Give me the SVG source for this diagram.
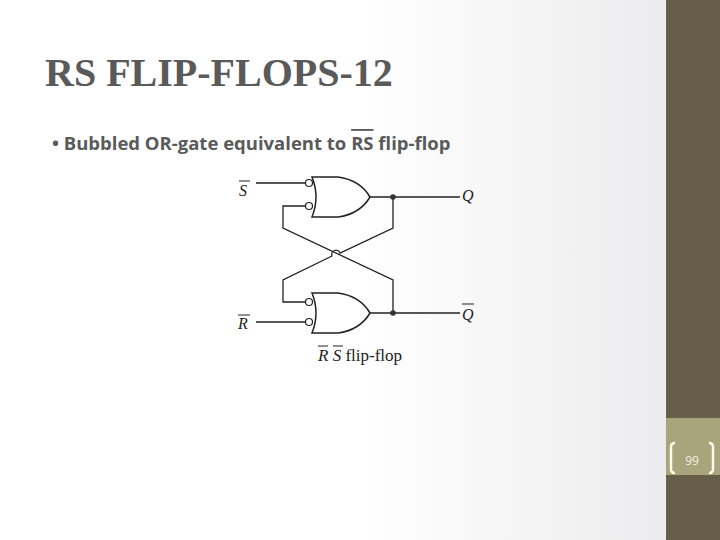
<svg xmlns="http://www.w3.org/2000/svg" width="720" height="540" viewBox="0 0 720 540">
<defs>
<linearGradient id="bg" x1="0" x2="1" y1="0" y2="0"><stop offset="0.5" stop-color="#ffffff"/><stop offset="1" stop-color="#e8e8ea"/></linearGradient>
<style>
.w{fill:none;stroke:#222;stroke-width:1.3}
.g{fill:#fff;stroke:#222;stroke-width:1.5}
.b{fill:#fff;stroke:#222;stroke-width:1.2}
.d{fill:#333}
.it{font-family:"Liberation Serif",serif;font-style:italic;font-size:16px;fill:#222}
</style>
</defs>
<rect width="720" height="540" fill="url(#bg)"/>
<rect x="666" y="0" width="54" height="540" fill="#665e48"/>
<rect x="666" y="418" width="54" height="57" fill="#a8a47c"/>
<path d="M675 443 q-4 0 -4 4 v22 q0 4 4 4 M709 443 q4 0 4 4 v22 q0 4 -4 4" fill="none" stroke="#fffbe8" stroke-width="2.5"/>
<text x="692" y="465" font-family="Open Sans,sans-serif" font-size="12" fill="#f4f0e0" text-anchor="middle">99</text>
<text x="45" y="86" font-family="Liberation Serif,serif" font-weight="bold" font-size="40" fill="#5a5a5a">RS FLIP-FLOPS-12</text>
<text x="52" y="150" font-family="Open Sans,sans-serif" font-weight="bold" font-size="18.5" fill="#5a5a5a">• Bubbled OR-gate equivalent to <tspan text-decoration="overline">RS</tspan> flip-flop</text>
<g id="connectors">
<path class="w" d="M256 183 H305 M256 322 H305 M370 197 H460 M370 313 H460"/>
<path class="w" d="M305 206 H283 V228 L393 280 V313"/>
<path class="w" d="M393 197 V228 L340 253 A4 4 0 0 0 332 256 L283 280 V302 H305"/>
</g>
<g id="gateTop">
<path class="g" d="M312 177 H338 Q360 180 370 197 Q360 214 338 217 H312 Q320 197 312 177 Z"/>
<circle class="b" cx="309" cy="183" r="3.5"/><circle class="b" cx="309" cy="206" r="3.5"/>
<circle class="d" cx="393" cy="197" r="2.8"/>
</g>
<g id="gateBottom">
<path class="g" d="M312 293 H338 Q360 296 370 313 Q360 330 338 333 H312 Q320 313 312 293 Z"/>
<circle class="b" cx="309" cy="302" r="3.5"/><circle class="b" cx="309" cy="322" r="3.5"/>
<circle class="d" cx="393" cy="313" r="2.8"/>
</g>
<g id="labels">
<text class="it" x="239" y="196">S</text><line x1="239" y1="181" x2="250" y2="181" stroke="#222"/>
<text class="it" x="238" y="329">R</text><line x1="238" y1="315" x2="250" y2="315" stroke="#222"/>
<text class="it" x="462" y="201">Q</text>
<text class="it" x="462" y="320">Q</text><line x1="462" y1="304" x2="474" y2="304" stroke="#222"/>
<text x="318" y="361" font-family="Liberation Serif,serif" font-size="17" fill="#222"><tspan font-style="italic">R S</tspan> flip-flop</text>
<line x1="318" y1="346" x2="328" y2="346" stroke="#222"/><line x1="333" y1="346" x2="343" y2="346" stroke="#222"/>
</g>
</svg>
